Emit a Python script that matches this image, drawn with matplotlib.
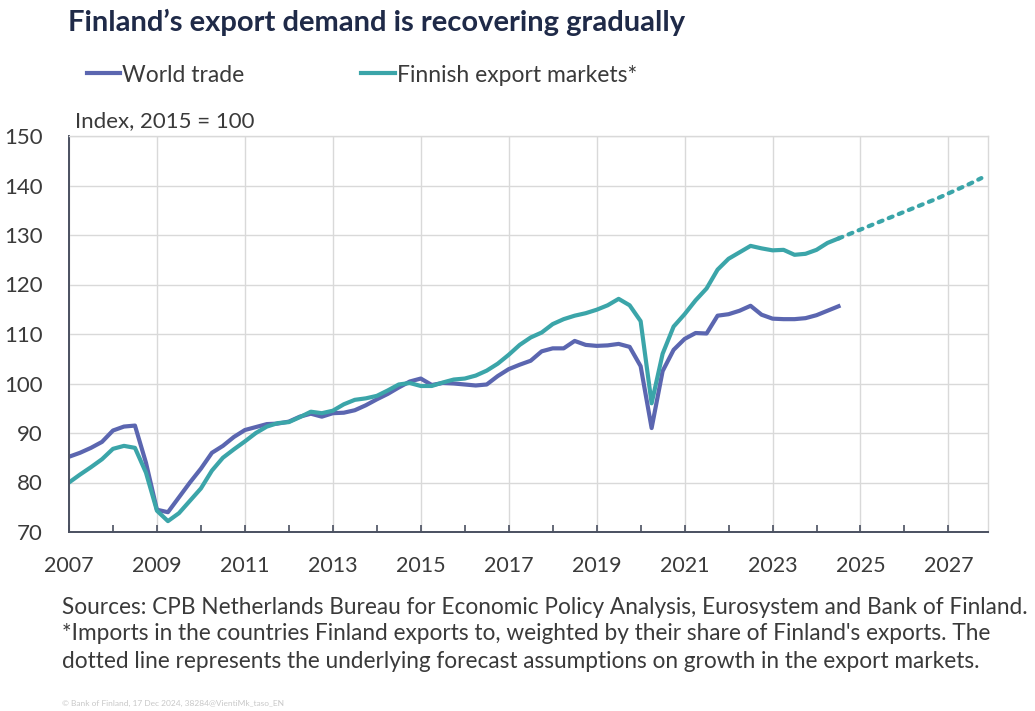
import matplotlib
matplotlib.use("Agg")
import matplotlib.pyplot as plt
import numpy as np

plt.rcParams['font.family'] = ['Lato', 'DejaVu Sans']

# quarterly index, 2015 = 100, first quarter 2007 .. third quarter 2024
start_year = 2007
world_trade = [85.2, 86.0, 87.0, 88.2, 90.5, 91.3, 91.5, 84.0, 74.5, 74.0,
               77.0, 80.0, 82.8, 86.0, 87.4, 89.2, 90.6, 91.2, 91.8, 91.9,
               92.3, 93.3, 93.9, 93.3, 94.0, 94.1, 94.6, 95.6, 96.8, 97.9,
               99.2, 100.4, 101.0, 99.7, 100.1, 100.0, 99.8, 99.6, 99.8, 101.5,
               102.9, 103.8, 104.6, 106.5, 107.1, 107.1, 108.6, 107.8, 107.6, 107.7,
               108.0, 107.4, 103.5, 91.0, 102.5, 106.8, 109.0, 110.2, 110.1, 113.7,
               114.0, 114.7, 115.7, 113.9, 113.1, 113.0, 113.0, 113.2, 113.8, 114.7,
               115.6]
export_markets = [80.0, 81.6, 83.1, 84.7, 86.8, 87.4, 87.0, 82.0, 74.3, 72.2,
                  73.8, 76.3, 78.8, 82.4, 85.0, 86.7, 88.3, 90.0, 91.3, 92.0,
                  92.2, 93.2, 94.3, 94.0, 94.5, 95.8, 96.7, 97.0, 97.5, 98.6,
                  99.8, 100.1, 99.5, 99.5, 100.2, 100.8, 101.0, 101.6, 102.6, 104.0,
                  105.8, 107.8, 109.3, 110.3, 112.0, 113.0, 113.7, 114.2, 114.9, 115.8,
                  117.1, 115.8, 112.6, 96.0, 106.0, 111.5, 114.0, 116.8, 119.2, 123.0,
                  125.2, 126.5, 127.8, 127.3, 126.9, 127.0, 126.0, 126.2, 127.0, 128.4,
                  129.3]
# forecast assumption, third quarter 2024 .. fourth quarter 2027
forecast = [129.3, 130.2, 131.1, 132.0, 132.9, 133.8, 134.7, 135.6, 136.5, 137.4,
            138.4, 139.4, 140.4, 141.5]

t_hist = start_year + np.arange(len(world_trade)) / 4
t_fc = t_hist[-1] + np.arange(len(forecast)) / 4

blue = '#5b66b0'
teal = '#3ba5a9'
text_col = '#3a3a3a'

fig = plt.figure(figsize=(10.35, 7.11), dpi=100)
ax = fig.add_axes([69/1035, 1-532/711, (988-69)/1035, (532-136)/711])

ax.plot(t_hist, world_trade, color=blue, lw=3, solid_joinstyle='round', label='World trade')
ax.plot(t_hist, export_markets, color=teal, lw=3, solid_joinstyle='round', label='Finnish export markets*')
ax.plot(t_fc, forecast, color=teal, lw=3, linestyle=(0, (1, 1.6)), dash_capstyle='round')

ax.set_xlim(2007, 2027.9)
ax.set_ylim(70, 150)
ax.set_yticks(range(70, 151, 10))
ax.set_xticks(range(2007, 2028, 2))
ax.set_xticks(range(2007, 2028), minor=True)
ax.grid(True, which='major', color='#d9d9d9', lw=1)
ax.set_axisbelow(True)
ax.tick_params(axis='x', which='both', direction='in', length=5, width=1.2, color='#4a5060',
               labelsize=15.5, labelcolor=text_col, pad=17)
ax.tick_params(axis='y', length=0, labelsize=16, labelcolor=text_col, pad=19)
for s in ['top', 'right']:
    ax.spines[s].set_color('#d9d9d9')
    ax.spines[s].set_linewidth(1)
for s in ['left', 'bottom']:
    ax.spines[s].set_color('#4a5060')
    ax.spines[s].set_linewidth(1.4)

fig.text(68/1035, 1-22/711, 'Finland\u2019s export demand is recovering gradually',
         fontsize=21, fontweight='bold', color='#1f2a48', va='center', ha='left')
fig.legend(loc='center left', bbox_to_anchor=(66/1035, 1-75/711), ncol=2, frameon=False,
           fontsize=16.5, handlelength=1.45, handletextpad=0.1, columnspacing=5.1,
           labelcolor=text_col)
fig.text(75/1035, 1-121/711, 'Index, 2015 = 100', fontsize=16, color=text_col, va='center')

footer = ['Sources: CPB Netherlands Bureau for Economic Policy Analysis, Eurosystem and Bank of Finland.',
          "*Imports in the countries Finland exports to, weighted by their share of Finland's exports. The",
          'dotted line represents the underlying forecast assumptions on growth in the export markets.']
for i, line in enumerate(footer):
    fig.text(62/1035, 1-(607+27*i)/711, line, fontsize=16.3, color=text_col, va='center')
fig.text(62/1035, 1-703/711, '\u00a9 Bank of Finland, 17 Dec 2024, 38284@VientiMk_taso_EN',
         fontsize=6, color='#c8c8c8', va='center')

fig.savefig('out.png', dpi=100)
